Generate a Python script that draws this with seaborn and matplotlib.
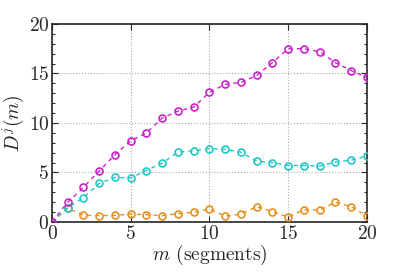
import matplotlib
matplotlib.use("Agg")
import matplotlib.pyplot as plt
from matplotlib.ticker import MultipleLocator
import numpy as np
import pandas as pd
import seaborn as sns

# values
segments = list(range(21))
d_magenta = [0.0, 2.0, 3.5, 5.15, 6.8, 8.2, 9.0, 10.5, 11.2, 11.6, 13.1,
             13.9, 14.1, 14.8, 16.1, 17.5, 17.5, 17.2, 16.1, 15.3, 14.6]
d_cyan = [0.0, 1.45, 2.45, 3.9, 4.5, 4.45, 5.2, 5.95, 7.05, 7.2, 7.4,
          7.35, 7.05, 6.15, 6.0, 5.7, 5.7, 5.65, 6.05, 6.25, 6.65]
d_orange = [0.0, 1.4, 0.67, 0.64, 0.67, 0.8, 0.74, 0.64, 0.84, 0.98, 1.3,
            0.6, 0.78, 1.55, 1.05, 0.5, 1.25, 1.2, 2.0, 1.55, 0.6]
series_names = ["a", "b", "c"]
series_colors = ["#e8901a", "#1fc8c8", "#cc22cc"]

sns.set_style("ticks")
plt.rcParams["font.family"] = ["cmr10", "DejaVu Serif"]
plt.rcParams["mathtext.fontset"] = "cm"
plt.rcParams["axes.formatter.use_mathtext"] = True

df = pd.DataFrame({
    "m": segments * 3,
    "D": d_orange + d_cyan + d_magenta,
    "s": [series_names[0]] * 21 + [series_names[1]] * 21 + [series_names[2]] * 21,
})

fig = plt.figure(figsize=(4.15, 2.77), dpi=100)
ax = fig.add_axes([0.1253, 0.1986, 0.7587, 0.7148])

for name, col in zip(series_names, series_colors):
    sub = df[df["s"] == name]
    sns.lineplot(data=sub, x="m", y="D", ax=ax, color=col, lw=1.0,
                 linestyle=(0, (3, 3)), marker="o", markersize=5,
                 markerfacecolor="none", markeredgecolor=col,
                 markeredgewidth=1.2, legend=False, zorder=3)

ax.set_xlim(0, 20)
ax.set_ylim(0, 20)
ax.xaxis.set_major_locator(MultipleLocator(5))
ax.yaxis.set_major_locator(MultipleLocator(5))
ax.yaxis.set_minor_locator(MultipleLocator(1))
ax.grid(True, which="major", color="#aaaaaa", linestyle=":", lw=0.8)
ax.tick_params(which="both", direction="in", top=True, right=True,
               labelsize=14, pad=2)
ax.tick_params(which="major", length=4, width=0.8)
ax.tick_params(which="minor", length=2.5, width=0.8)
for sp in ax.spines.values():
    sp.set_linewidth(1.2)
ax.set_xlabel(r"$m$ (segments)", fontsize=14, labelpad=0)
ax.set_ylabel(r"$D^j(m)$", fontsize=14, labelpad=2)

fig.savefig("out.png", dpi=100)
